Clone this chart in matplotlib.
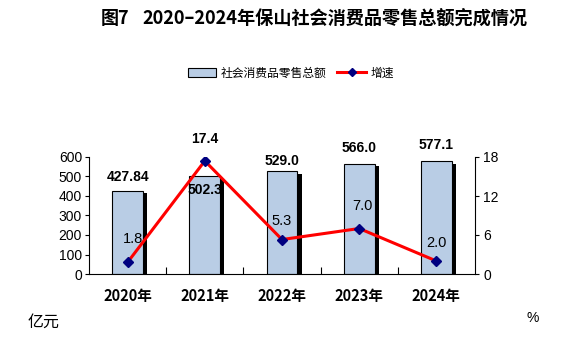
import matplotlib
matplotlib.use("Agg")
import matplotlib.pyplot as plt
import matplotlib.patheffects as pe
from matplotlib.lines import Line2D
from matplotlib.patches import Patch
import numpy as np

plt.rcParams['font.family'] = ['Liberation Sans', 'Noto Sans CJK SC', 'DejaVu Sans']

years = ['2020年', '2021年', '2022年', '2023年', '2024年']
sales = [427.84, 502.3, 529.0, 566.0, 577.1]
sales_labels = ['427.84', '502.3', '529.0', '566.0', '577.1']
growth = [1.8, 17.4, 5.3, 7.0, 2.0]
growth_labels = ['1.8', '17.4', '5.3', '7.0', '2.0']

CJK = ['Noto Sans CJK SC', 'DejaVu Sans']

fig = plt.figure(figsize=(5.68, 3.48), dpi=100)
ax = fig.add_axes([89 / 568, 1 - 274 / 348, 386 / 568, 117 / 348])
x = np.arange(len(years))

bars = ax.bar(x, sales, width=0.4, color='#B9CDE5', edgecolor='black', linewidth=0.8, zorder=2)
for b in bars:
    b.set_path_effects([pe.SimplePatchShadow(offset=(3, -2), shadow_rgbFace='black', alpha=1.0),
                        pe.Normal()])

ax.set_xlim(-0.5, len(years) - 0.5)
ax.set_ylim(0, 600)
ax.set_yticks(range(0, 601, 100))
ax.set_xticks(x)
ax.set_xticklabels(years, family=CJK, fontweight='bold', fontsize=10.5)
ax.set_xticks(np.arange(0.5, len(years) - 1, 1), minor=True)
ax.tick_params(axis='x', which='major', length=0, pad=10)
ax.tick_params(axis='x', which='minor', direction='in', length=5, width=0.8)
ax.tick_params(axis='y', direction='out', length=3, width=0.8, labelsize=10, pad=2)
ax.spines['top'].set_visible(False)
ax.spines['right'].set_visible(False)
for s in ('left', 'bottom'):
    ax.spines[s].set_linewidth(0.8)

# value labels for the bars (offsets in points)
bar_offsets = [10, -10, 7, 11, 12]
for xi, v, lab, off in zip(x, sales, sales_labels, bar_offsets):
    ax.annotate(lab, (xi, v), xytext=(0, off), textcoords='offset points',
                ha='center', va='center', fontsize=10, fontweight='bold', zorder=5)

ax2 = ax.twinx()
ax2.set_ylim(0, 18)
ax2.set_yticks([0, 6, 12, 18])
ax2.plot(x, growth, color='#FF0000', linewidth=2.2, marker='D', markersize=5,
         markerfacecolor='#000080', markeredgecolor='#000080', zorder=3)
ax2.tick_params(axis='y', direction='out', length=3, width=0.8, labelsize=10, pad=3)
ax2.spines['top'].set_visible(False)
ax2.spines['left'].set_visible(False)
ax2.spines['bottom'].set_visible(False)
ax2.spines['right'].set_linewidth(0.8)

growth_offsets = [(4, 17), (0, 16), (0, 13), (2, 16), (0, 13)]
growth_weights = ['normal', 'bold', 'normal', 'normal', 'normal']
for xi, v, lab, (dx, dy), w in zip(x, growth, growth_labels, growth_offsets, growth_weights):
    ax2.annotate(lab, (xi, v), xytext=(dx, dy), textcoords='offset points',
                 ha='center', va='center', fontsize=10.5 if w == 'normal' else 10,
                 fontweight=w)

# title
fig.text(101 / 568, 1 - 18 / 348, '图7', family=CJK, fontweight='bold', fontsize=13,
         ha='left', va='center')
fig.text(142 / 568, 1 - 18 / 348, '2020–2024年保山社会消费品零售总额完成情况', family=CJK,
         fontweight='bold', fontsize=13.1, ha='left', va='center')

# legend
handles = [Patch(facecolor='#B9CDE5', edgecolor='black', linewidth=0.8),
           Line2D([0], [0], color='#FF0000', linewidth=2.2, marker='D', markersize=4,
                  markerfacecolor='#000080', markeredgecolor='#000080')]
fig.legend(handles, ['社会消费品零售总额', '增速'], loc='center', bbox_to_anchor=(291 / 568, 1 - 73 / 348),
           ncol=2, frameon=False, prop={'family': CJK, 'size': 8.5}, handlelength=2.4,
           handleheight=0.7, columnspacing=0.9, handletextpad=0.4)

# axis units
fig.text(44 / 568, 1 - 322 / 348, '亿元', family=CJK, fontsize=11.5,
         ha='center', va='center')
fig.text(533 / 568, 1 - 318 / 348, '%', fontsize=10, ha='center', va='center')

fig.savefig('out.png', dpi=100)
